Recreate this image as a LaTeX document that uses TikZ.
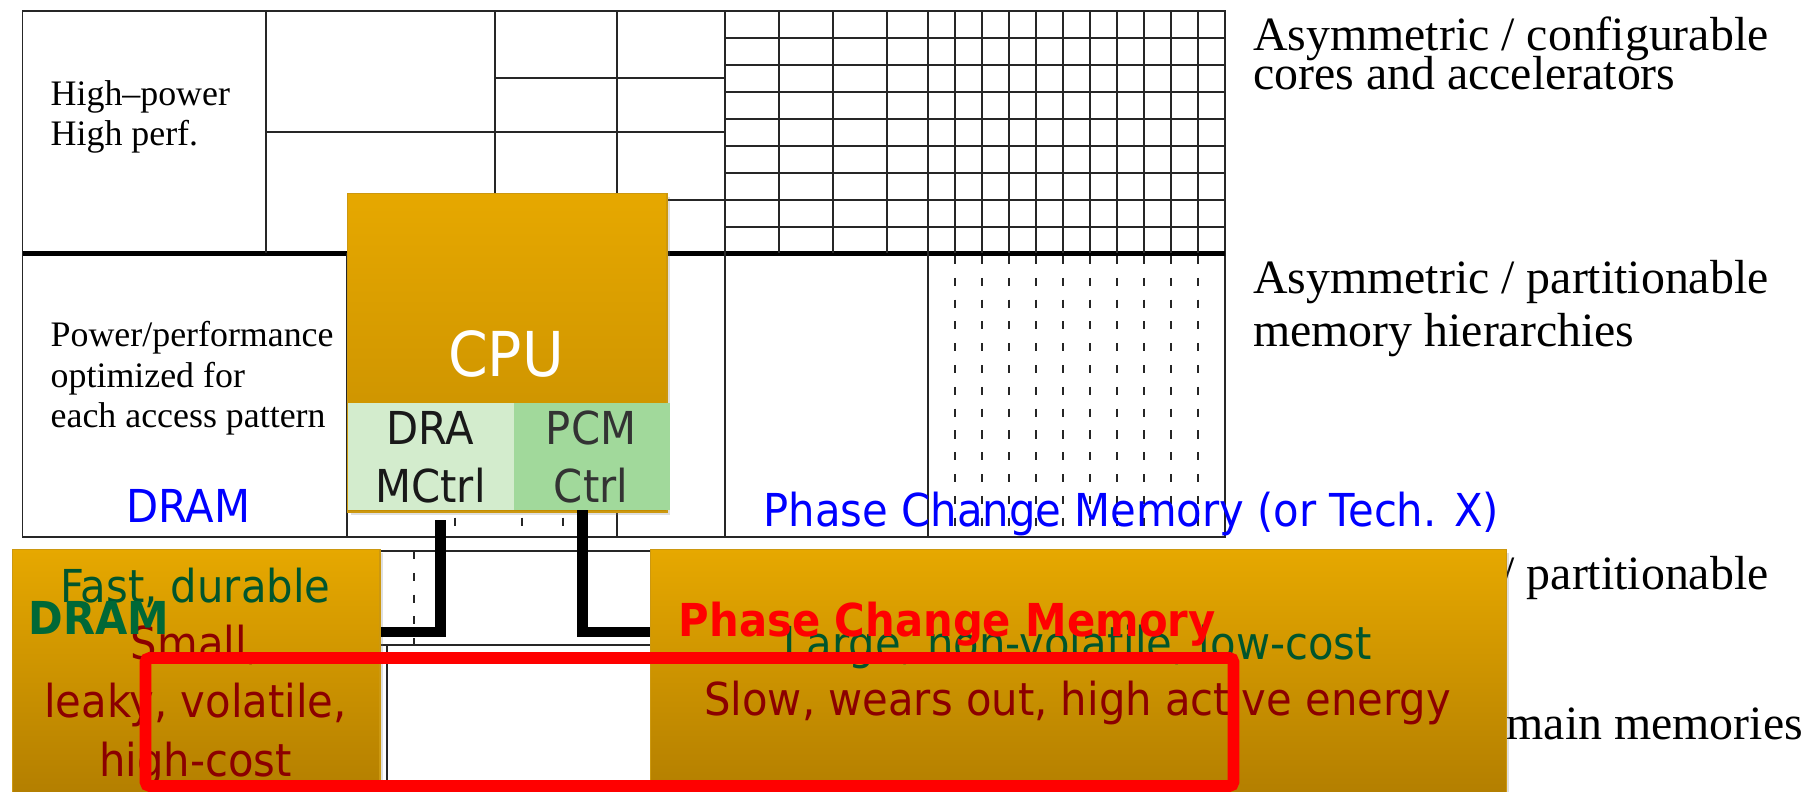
\documentclass[tikz,border=0pt]{standalone}
\usepackage{fontspec}
\setmainfont{Liberation Serif}
\newfontfamily\tahoma[FakeStretch=0.92]{DejaVu Sans}
\usetikzlibrary{shadows}

\definecolor{goldtop}{RGB}{230,168,0}
\definecolor{goldmid}{RGB}{196,140,0}
\definecolor{goldbot}{RGB}{176,124,0}
\definecolor{goldedge}{RGB}{204,152,16}
\definecolor{ctrllight}{RGB}{211,236,205}
\definecolor{ctrldark}{RGB}{161,217,155}
\definecolor{fastgreen}{RGB}{0,85,45}
\definecolor{labelgreen}{RGB}{0,104,55}
\definecolor{slowred}{RGB}{139,0,0}

\tikzset{
  gridline/.style={line width=0.4pt, black!85},
  dashline/.style={gridline, dash pattern=on 2.3pt off 3.9pt},
  goldbox/.style={draw=goldedge, line width=0.4pt, top color=goldtop, bottom color=goldbot,
    anchor=north west, inner sep=0pt,
    drop shadow={shadow xshift=0.8pt, shadow yshift=-0.8pt, opacity=0.25}},
  ctrlbox/.style={anchor=north west, inner sep=0pt, minimum height=1.07cm},
  sidetxt/.style={font=\fontsize{10.2}{11.5}\selectfont, anchor=base west, inner sep=0pt},
  righttxt/.style={font=\fontsize{13.6}{15}\selectfont, anchor=base west, inner sep=0pt},
  sans/.style={font=\tahoma\fontsize{12.9}{16.4}\selectfont, anchor=base, inner sep=0pt},
  sansbold/.style={font=\tahoma\bfseries\fontsize{12.9}{16.4}\selectfont, anchor=base west, inner sep=0pt},
  wire/.style={line width=3.1pt, black},
  redframe/.style={red, line width=3.3pt, rounded corners=0.04cm}
}

\begin{document}
\begin{tikzpicture}[x=0.01cm, y=-0.01cm]
    \useasboundingbox (0,0) rectangle (1802,792);
    \clip (0,0) rectangle (1802,792);
    \fill[white] (0,0) rectangle (1802,792);

    % === GRID (background) ===
    \draw[gridline] (22.5,11) rectangle (1225,537);
    \draw[line width=1.56pt] (22.5,253.5) -- (1225,253.5);

    % 1. Upper cells
    \foreach \x in {266,495,617,725} \draw[gridline] (\x,11) -- (\x,253.5);
    \draw[gridline] (266,132) -- (725,132);
    \draw[gridline] (495,78) -- (725,78);
    \draw[gridline] (617,200) -- (725,200);

    % 2. Fine cells on the right
    \foreach \y in {38,65,92,119,146,173,200,227} \draw[gridline] (725,\y) -- (1225,\y);
    \foreach \x in {779,833,887,928} \draw[gridline] (\x,11) -- (\x,253.5);
    \foreach \x in {955,982,...,1198} \draw[gridline] (\x,11) -- (\x,253.5);

    % 3. Lower cells
    \foreach \x in {347,617,725,928} \draw[gridline] (\x,253.5) -- (\x,537);
    \foreach \x in {455,522,563} \draw[dashline] (\x,256) -- (\x,537);
    \foreach \x in {955,982,...,1198} \draw[dashline] (\x,256) -- (\x,537);

    % 4. Second grid between the memories
    \draw[gridline] (379,551) -- (650,551);
    \draw[gridline] (379,645) -- (650,645);
    \draw[dashline] (414,551) -- (414,645);
    \draw[gridline] (387,645) -- (387,792);

    % === TEXT ON THE GRID ===
    \node[sidetxt] (hp1) at (50,106) {High--power};
    \node[sidetxt] (hp2) at (50,145.7) {High perf.};
    \node[sidetxt] (pp1) at (50,347) {Power/performance};
    \node[sidetxt] (pp2) at (50,387.5) {optimized for};
    \node[sidetxt] (pp3) at (50,428) {each access pattern};

    \node[righttxt] (cores1) at (1252.5,50.7) {Asymmetric / configurable};
    \node[righttxt] (cores2) at (1252.5,90) {cores and accelerators};
    \node[righttxt] (hier1) at (1252.5,293.3) {Asymmetric / partitionable};
    \node[righttxt] (hier2) at (1252.5,346.7) {memory hierarchies};
    \node[righttxt] (mains1) at (1252.5,590) {Asymmetric / partitionable};
    \node[righttxt] (mains2) at (1506,740) {main memories};

    \node[sans, text=blue] (dramlbl) at (188.5,523) {DRAM};
    \node[sans, text=blue, anchor=base west] (pcmlbl) at (763,527) {Phase Change Memory (or Tech. X)};

    % === CPU ===
    \node[goldbox, bottom color=goldmid, minimum width=3.19cm, minimum height=3.18cm] (cpu) at (347,193) {};
    \node[font=\tahoma\fontsize{17.6}{20}\selectfont, text=white, anchor=base, inner sep=0pt] (cpulbl) at (506,377) {CPU};

    % Controllers
    \node[ctrlbox, fill=ctrllight, minimum width=1.66cm] (dractrl) at (347,402) {};
    \node[ctrlbox, fill=ctrldark, minimum width=1.56cm] (pcmctrl) at (513,402) {};
    \node[sans, text=black!90] (dra1) at (430.5,445) {DRA};
    \node[sans, text=black!90] (dra2) at (430.5,503) {MCtrl};
    \node[sans, text=black!80] (pcmc1) at (591,445) {PCM};
    \node[sans, text=black!80] (pcmc2) at (591,503) {Ctrl};

    % === MEMORIES ===
    \node[goldbox, minimum width=3.67cm, minimum height=2.6cm] (drambox) at (12,549) {};
    \node[goldbox, minimum width=8.55cm, minimum height=2.6cm] (pcmbox) at (650,549) {};

    % Wires: controller -> memory
    \draw[wire] ([xshift=0.1cm, yshift=-0.1cm]dractrl.south) |- (drambox.east |- 0,632);
    \draw[wire] ([xshift=-0.09cm]pcmctrl.south) |- (pcmbox.west |- 0,632);

    % DRAM: fast / small
    \node[sans, text=fastgreen] (fast) at (195.5,603) {Fast, durable};
    \node[sans, text=slowred] (small1) at (195.5,660) {Small,};
    \node[sans, text=slowred] (small2) at (195.5,718) {leaky, volatile,};
    \node[sans, text=slowred] (small3) at (195.5,777) {high-cost};

    % PCM: large / slow
    \node[sans, text=fastgreen] (large) at (1077.5,660) {Large, non-volatile, low-cost};
    \node[sans, text=slowred] (slow) at (1077.5,716) {Slow, wears out, high active energy};

    \node[sansbold, text=labelgreen] (dramname) at (28,635) {DRAM};
    \node[sansbold, text=red] (pcmname) at (678,637) {Phase Change Memory};

    % Highlight
    \draw[redframe] (145.5,658) rectangle (1233.5,786);
\end{tikzpicture}
\end{document}
